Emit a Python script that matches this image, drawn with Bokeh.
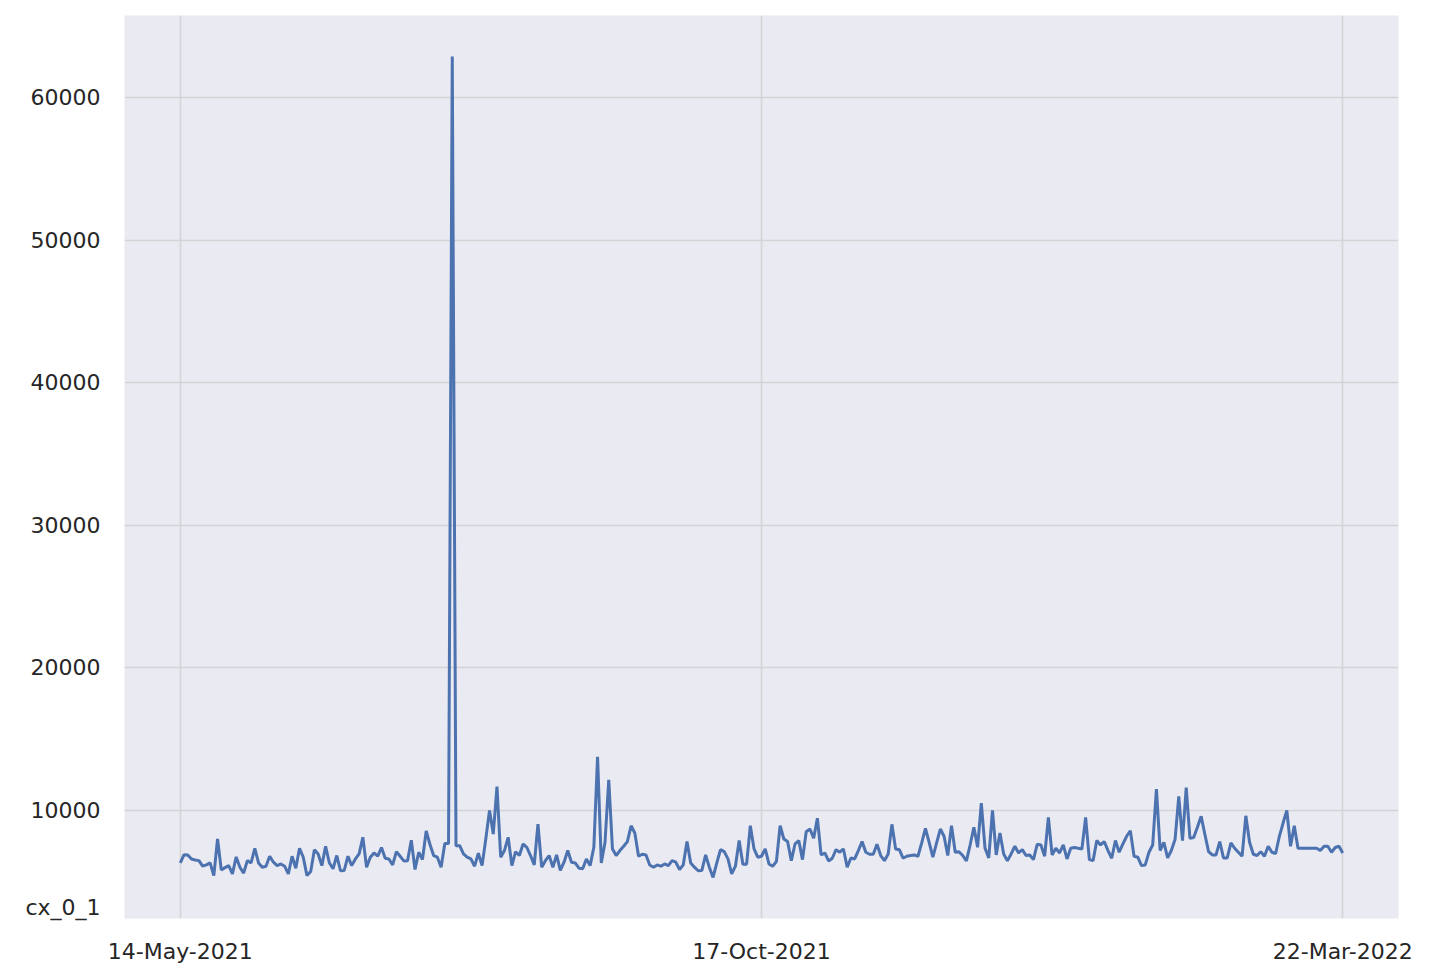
import pandas as pd

from bokeh.embed import file_html
from bokeh.models import DatetimeTickFormatter, FixedTicker, Range1d
from bokeh.plotting import figure
from bokeh.resources import INLINE

# daily series
start_date = "2021-05-14"
tick_dates = ["2021-05-14", "2021-10-17", "2022-03-22"]
y_ticks = [10000, 20000, 30000, 40000, 50000, 60000]
series_name = "cx_0_1"

cx_0_1 = [
    6290, 6870, 6850, 6570, 6500, 6450, 6060, 6150, 6290, 5400,
    7970, 5800, 5960, 6100, 5520, 6710, 5990, 5570, 6450, 6290,
    7320, 6290, 5990, 6060, 6760, 6340, 6100, 6220, 6060, 5520,
    6760, 5920, 7320, 6690, 5400, 5690, 7220, 6920, 6100, 7460,
    6300,
    5880, 6810, 5740, 5760, 6760, 6100, 6570, 6920, 8090, 5990,
    6690, 6990, 6760, 7370, 6620, 6570, 6150, 7080, 6760, 6430,
    6450, 7880, 5830, 7040, 6520, 8530, 7600, 6810, 6690, 5990,
    7650, 7650, 62900, 7500, 7500, 6920, 6690, 6570, 6060, 6980,
    6100, 7970, 9980, 8320, 11650, 6690, 7160, 8090, 6100, 7080,
    6810, 7620, 7390, 6810, 6150, 9020, 5990, 6450, 6810, 5990,
    6850, 5760, 6340, 7160, 6340, 6290, 5920, 5880, 6570, 6100,
    7390, 13740, 6290, 7740, 12120, 7270, 6810, 7160, 7460, 7790,
    8900,
    8390, 6760, 6900, 6850, 6150, 5990, 6150, 6060, 6220, 6100,
    6450, 6340, 5830, 6150, 7790, 6290, 5990, 5740, 5760, 6850,
    5990, 5270, 6290, 7220, 7080, 6570, 5520, 6060, 7860, 6200,
    6200, 8900, 7270, 6690, 6760, 7270, 6220, 6060, 6390, 8900,
    7970, 7790, 6450, 7620, 7860, 6520, 8480, 8670, 8020, 9430,
    6850, 6990, 6430, 6620, 7220, 7040, 7270, 5990, 6640, 6570,
    7160, 7790, 7040, 6900, 6900, 7600, 6810, 6450, 6920, 9000,
    7270, 7220, 6620, 6760, 6810, 6850, 6760, 7700, 8720, 7740,
    6690, 7700, 8670, 8160, 6810, 8900, 7040, 7080, 6810, 6430,
    7550, 8790, 7390, 10490, 7320, 6640, 9980, 6850, 8390, 6920,
    6450, 6920, 7460, 6990, 7220, 6810, 6850, 6520, 7600, 7550,
    6760, 9480, 6850, 7320, 6990, 7550, 6570, 7320, 7370, 7320,
    7270, 9480, 6520, 6450, 7860, 7550, 7790, 7160, 6620, 7860,
    7040, 7620, 8160, 8550, 6760, 6690, 6100, 6150, 7040, 7550,
    11480, 7160, 7740, 6640, 7160, 7930, 10970, 7860, 11580, 8020,
    8070, 8800, 9570, 8300, 7080, 6850, 6850, 7790, 6640, 6640,
    7700, 7320, 7040, 6760, 9600, 7740, 6900, 6810, 7080, 6760,
    7460, 7040, 6950, 8160, 9090, 9980, 7460, 8900, 7320, 7320,
    7320, 7320, 7320, 7320, 7160, 7460, 7460, 7040, 7370, 7460,
    6990,
]

dates = pd.date_range(start_date, periods=len(cx_0_1), freq="D")

# roughly matplotlib's 5% margins
xpad = (dates[-1] - dates[0]) * 0.048
ymin, ymax = min(cx_0_1), max(cx_0_1)
ypad = (ymax - ymin) * 0.05

p = figure(x_axis_type="datetime",
           frame_width=1274, frame_height=903,
           x_range=Range1d((dates[0] - xpad).to_pydatetime(),
                           (dates[-1] + xpad).to_pydatetime()),
           y_range=Range1d(ymin - ypad, ymax + ypad),
           min_border_left=124, min_border_top=15,
           min_border_right=22, min_border_bottom=45,
           background_fill_color="#eaeaf2", border_fill_color="white",
           outline_line_color=None,
           output_backend="svg", toolbar_location=None)

p.line(dates, cx_0_1, line_color="#4c72b0", line_width=3)

tick_ms = [pd.Timestamp(d).timestamp() * 1000 for d in tick_dates]
p.xaxis.ticker = FixedTicker(ticks=tick_ms)
fmt = "%d-%b-%Y"
p.xaxis.formatter = DatetimeTickFormatter(
    milliseconds=fmt, seconds=fmt, minsec=fmt, minutes=fmt, hourmin=fmt,
    hours=fmt, days=fmt, months=fmt, years=fmt)

# the series name sits in the y label column, just above the frame bottom
name_y = round(ymin - ypad * 0.74)
p.yaxis.ticker = FixedTicker(ticks=[name_y] + y_ticks)
p.yaxis.major_label_overrides = {name_y: series_name}
p.xgrid.ticker = FixedTicker(ticks=tick_ms)
p.ygrid.ticker = FixedTicker(ticks=y_ticks)

for ax in (p.xaxis, p.yaxis):
    ax.axis_line_color = None
    ax.major_tick_line_color = None
    ax.minor_tick_line_color = None
    ax.major_label_text_font = "DejaVu Sans"
    ax.major_label_text_font_size = "22px"
    ax.major_label_text_color = "#262626"
p.xaxis.major_label_standoff = 14
p.yaxis.major_label_standoff = 18

p.grid.grid_line_color = "#d4d4d6"
p.grid.grid_line_width = 1.6

open("out.html", "w").write(file_html(p, INLINE))
